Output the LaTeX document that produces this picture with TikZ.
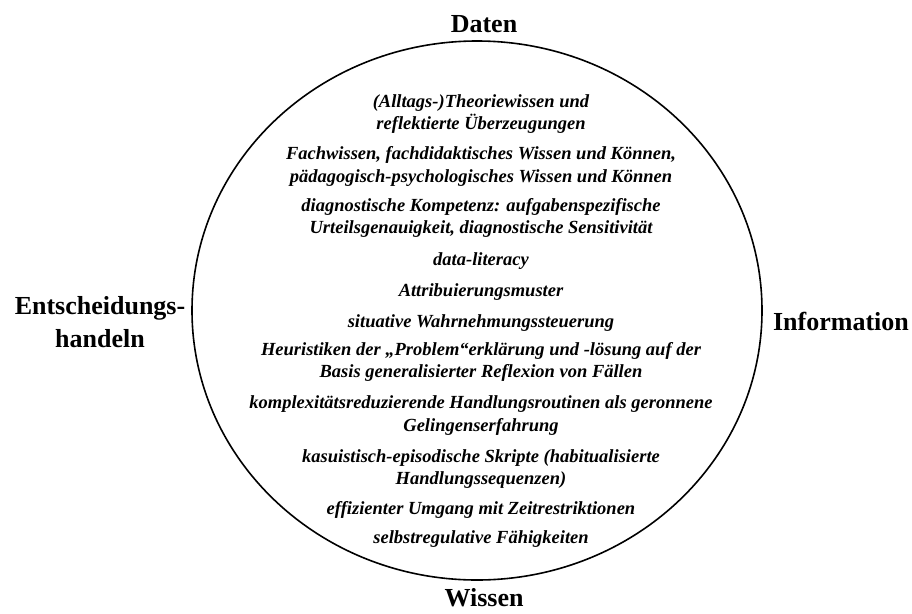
\documentclass[tikz,border=0pt]{standalone}
\usepackage{fontspec}
\setmainfont{Liberation Serif}
\usetikzlibrary{shapes.geometric}
\begin{document}
\begin{tikzpicture}[x=1pt,y=-1pt,
  lbl/.style={font=\fontsize{26}{33}\selectfont\bfseries, inner sep=0pt},
  itm/.style={font=\fontsize{18.5}{23}\selectfont\bfseries\itshape, anchor=base, inner sep=0pt},
  ring/.style={draw, ellipse, line width=1.6pt, inner sep=0pt}]
\useasboundingbox (0,0) rectangle (912,613);
\node[ring, minimum width=570pt, minimum height=539pt] (circ) at (477,310.5) {};
% outer labels
\node[lbl, anchor=base] (daten) at (484,32) {Daten};
\node[lbl, anchor=base] (wissen) at (484,606) {Wissen};
\node[lbl, anchor=base] (info) at (841,330) {Information};
\node[lbl, align=center] (entsch) at (100,322.5) {Entscheidungs-\\handeln};
% inner items
\node[itm] (l1)  at (481,107) {(Alltags-)Theoriewissen und};
\node[itm] (l2)  at (481,129) {reflektierte Überzeugungen};
\node[itm] (l3)  at (481,159) {Fachwissen, fachdidaktisches Wissen und Können,};
\node[itm] (l4)  at (481,182) {pädagogisch-psychologisches Wissen und Können};
\node[itm] (l5)  at (481,211) {diagnostische Kompetenz: aufgabenspezifische};
\node[itm] (l6)  at (481,233) {Urteilsgenauigkeit, diagnostische Sensitivität};
\node[itm] (l7)  at (481,265) {data-literacy};
\node[itm] (l8)  at (481,296) {Attribuierungsmuster};
\node[itm] (l9)  at (481,327) {situative Wahrnehmungssteuerung};
\node[itm] (l10) at (481,355) {Heuristiken der „Problem“erklärung und -lösung auf der};
\node[itm] (l11) at (481,377) {Basis generalisierter Reflexion von Fällen};
\node[itm] (l12) at (481,408) {komplexitätsreduzierende Handlungsroutinen als geronnene};
\node[itm] (l13) at (481,431) {Gelingenserfahrung};
\node[itm] (l14) at (481,462) {kasuistisch-episodische Skripte (habitualisierte};
\node[itm] (l15) at (481,484) {Handlungssequenzen)};
\node[itm] (l16) at (481,514) {effizienter Umgang mit Zeitrestriktionen};
\node[itm] (l17) at (481,543) {selbstregulative Fähigkeiten};
\end{tikzpicture}
\end{document}
